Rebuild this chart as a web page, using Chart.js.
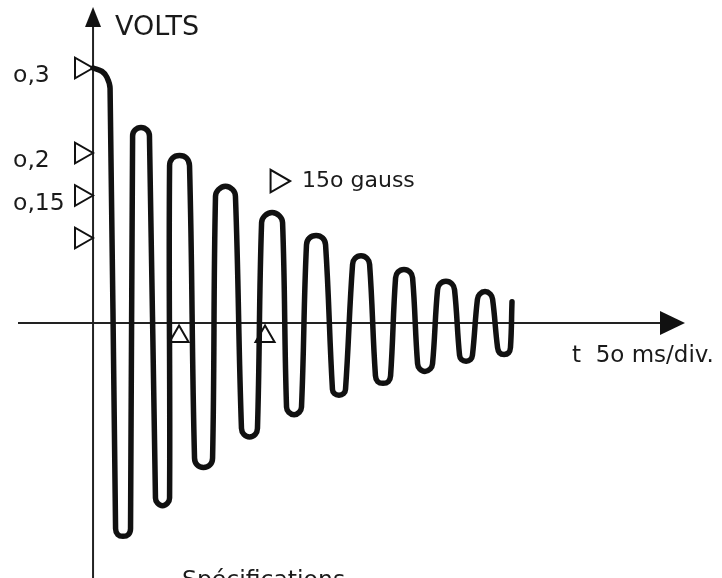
<!DOCTYPE html>
<html lang="fr">
<head>
<meta charset="UTF-8">
<title>Tension induite - oscillation amortie</title>
<script src="https://cdn.jsdelivr.net/npm/chart.js"></script>
<style>
  html, body { margin: 0; padding: 0; background: #fff; }
  #scope { display: block; }
</style>
</head>
<body>
<canvas id="scope" width="722" height="578"></canvas>
<script>
// Trace relevée : temps (ms) et tension (V), point par point
// (départ, puis chaque arrondi de crête / de creux sur 5 points)
var traceTime = [
  0.0, 5.2, 8.1, 9.9,
  13.1, 14.4, 17.4, 20.5, 21.8,
  23.0, 24.4, 27.9, 31.4, 32.8,
  36.3, 37.5, 40.4, 43.3, 44.5,
  44.5, 46.2, 50.3, 54.4, 56.1,
  59.0, 60.5, 64.2, 68.0, 69.5,
  71.2, 72.9, 77.0, 81.2, 82.8,
  86.3, 87.7, 91.0, 94.3, 95.6,
  98.0, 99.8, 104.1, 108.4, 110.2,
  112.5, 113.8, 116.9, 119.9, 121.2,
  124.1, 125.8, 129.7, 133.5, 135.2,
  139.2, 140.3, 143.0, 145.7, 146.8,
  150.9, 152.3, 155.8, 159.3, 160.8,
  164.2, 165.5, 168.6, 171.7, 173.0,
  175.9, 177.3, 180.8, 184.3, 185.8,
  188.7, 189.9, 193.0, 196.1, 197.4,
  200.3, 201.7, 205.2, 208.7, 210.2,
  213.1, 214.2, 216.9, 219.5, 220.6,
  223.5, 224.8, 227.9, 231.0, 232.3,
  235.2, 236.3, 239.0, 241.6, 242.7,
  243.6
];
var traceVolts = [
  0.300, 0.296, 0.289, 0.276,
  -0.242, -0.249, -0.251, -0.249, -0.242,
  0.220, 0.227, 0.230, 0.227, 0.220,
  -0.206, -0.212, -0.215, -0.212, -0.206,
  0.185, 0.194, 0.197, 0.194, 0.185,
  -0.159, -0.167, -0.170, -0.167, -0.159,
  0.149, 0.157, 0.161, 0.157, 0.149,
  -0.124, -0.131, -0.134, -0.131, -0.124,
  0.118, 0.126, 0.130, 0.126, 0.118,
  -0.099, -0.105, -0.108, -0.105, -0.099,
  0.092, 0.100, 0.103, 0.100, 0.092,
  -0.078, -0.083, -0.085, -0.083, -0.078,
  0.069, 0.076, 0.079, 0.076, 0.069,
  -0.062, -0.069, -0.071, -0.069, -0.062,
  0.053, 0.060, 0.063, 0.060, 0.053,
  -0.048, -0.054, -0.057, -0.054, -0.048,
  0.039, 0.046, 0.049, 0.046, 0.039,
  -0.038, -0.043, -0.045, -0.043, -0.038,
  0.028, 0.034, 0.037, 0.034, 0.028,
  -0.029, -0.035, -0.037, -0.035, -0.029,
  0.025
];

// repères de l'axe des tensions
var voltTicks = [0.3, 0.2, 0.15, 0.1];
var voltLabels = ['o,3', 'o,2', 'o,15', ''];

// repères de l'axe des temps (ms)
var timeMarks = [50, 100];

// repère 150 gauss
var gaussTime = [107];
var gaussVolts = [0.167];
var gaussLabel = '15o gauss';

var ink = '#111';

var tracePoints = traceTime.map(function (t, i) {
  return { x: t, y: traceVolts[i] };
});

var markerBase = {
  showLine: false,
  pointStyle: 'triangle',
  pointBackgroundColor: '#fff',
  pointBorderColor: ink,
  pointBorderWidth: 2,
  order: 2
};

// petits triangles à gauche de l'axe vertical
var voltMarkers = Object.assign({}, markerBase, {
  data: voltTicks.map(function (v) { return { x: -7, y: v }; }),
  pointRadius: 12,
  pointRotation: 90
});

// triangles sous l'axe horizontal
var timeMarkers = Object.assign({}, markerBase, {
  data: timeMarks.map(function (t) { return { x: t, y: -0.016 }; }),
  pointRadius: 11,
  pointRotation: 0
});

var gaussMarker = Object.assign({}, markerBase, {
  data: gaussTime.map(function (t, i) { return { x: t, y: gaussVolts[i] }; }),
  pointRadius: 13,
  pointRotation: 90
});

var scopeDecor = {
  id: 'scopeDecor',
  beforeDatasetsDraw: function (chart) {
    var ctx = chart.ctx;
    var x0 = chart.scales.x.getPixelForValue(0);
    var y0 = chart.scales.y.getPixelForValue(0);
    ctx.save();
    ctx.strokeStyle = '#222';
    ctx.fillStyle = ink;
    ctx.lineWidth = 2;
    // axe des temps + flèche
    ctx.beginPath();
    ctx.moveTo(18, y0);
    ctx.lineTo(664, y0);
    ctx.stroke();
    ctx.beginPath();
    ctx.moveTo(685, y0);
    ctx.lineTo(660, y0 - 12);
    ctx.lineTo(660, y0 + 12);
    ctx.closePath();
    ctx.fill();
    // axe des tensions + flèche
    ctx.beginPath();
    ctx.moveTo(x0, chart.height);
    ctx.lineTo(x0, 24);
    ctx.stroke();
    ctx.beginPath();
    ctx.moveTo(x0, 7);
    ctx.lineTo(x0 - 8, 27);
    ctx.lineTo(x0 + 8, 27);
    ctx.closePath();
    ctx.fill();
    ctx.restore();
  },
  afterDatasetsDraw: function (chart) {
    var ctx = chart.ctx;
    var xs = chart.scales.x, ys = chart.scales.y;
    var x0 = xs.getPixelForValue(0);
    var y0 = ys.getPixelForValue(0);
    ctx.save();
    ctx.fillStyle = '#1a1a1a';
    ctx.textAlign = 'left';
    ctx.textBaseline = 'alphabetic';

    ctx.font = '27px "DejaVu Sans"';
    ctx.fillText('VOLTS', x0 + 22, 35);

    ctx.font = '23.5px "DejaVu Sans"';
    voltTicks.forEach(function (v, i) {
      if (voltLabels[i]) ctx.fillText(voltLabels[i], 13, ys.getPixelForValue(v) + 14);
    });

    ctx.font = '22px "DejaVu Sans"';
    ctx.fillText(gaussLabel, xs.getPixelForValue(gaussTime[0]) + 25, ys.getPixelForValue(gaussVolts[0]) + 6);

    ctx.font = '23px "DejaVu Sans"';
    ctx.fillText('t  5o ms/div.', 572, y0 + 39);

    ctx.font = '23.5px "DejaVu Sans"';
    ctx.fillText('Spécifications', 182, 587);
    ctx.restore();
  }
};

new Chart(document.getElementById('scope').getContext('2d'), {
  type: 'line',
  data: {
    datasets: [
      {
        data: tracePoints,
        borderColor: ink,
        borderWidth: 5.5,
        borderJoinStyle: 'round',
        borderCapStyle: 'round',
        tension: 0.4,
        pointRadius: 0,
        fill: false,
        order: 1
      },
      voltMarkers,
      timeMarkers,
      gaussMarker
    ]
  },
  options: {
    responsive: false,
    animation: false,
    events: [],
    layout: { padding: 0, autoPadding: false },
    plugins: {
      legend: { display: false },
      tooltip: { enabled: false }
    },
    scales: {
      x: { type: 'linear', display: false, min: -54.1, max: 365.7 },
      y: { type: 'linear', display: false, min: -0.3, max: 0.38 }
    }
  },
  plugins: [scopeDecor]
});
</script>
</body>
</html>
